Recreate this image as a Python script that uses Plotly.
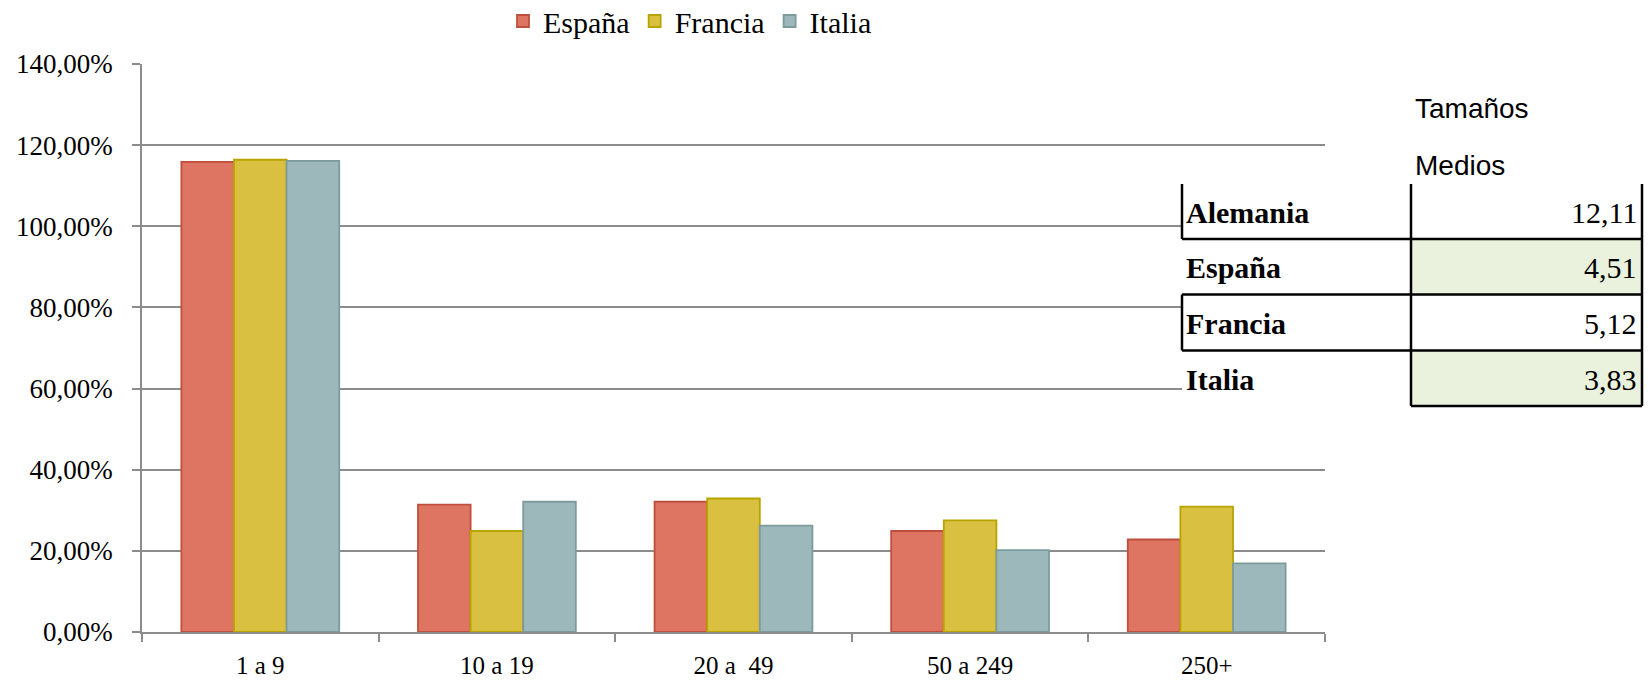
import plotly.graph_objects as go

categories = ["1 a 9", "10 a 19", "20 a\u00a0 49", "50 a 249", "250+"]
espana = [1.159, 0.314, 0.321, 0.249, 0.228]
francia = [1.164, 0.249, 0.329, 0.275, 0.309]
italia = [1.161, 0.321, 0.262, 0.202, 0.169]
series_names = ["España", "Francia", "Italia"]

table_header = ["Tamaños", "Medios"]
table_labels = ["Alemania", "España", "Francia", "Italia"]
table_values = ["12,11", "4,51", "5,12", "3,83"]

fills = ["#DE7563", "#D9C040", "#9CB8BA"]
lines = ["#BF4F3D", "#B9A300", "#7C9B9D"]

W, H = 1650, 680
L, T = 142, 64
R = W - 1325
B = H - 632
PW, PH = W - L - R, H - T - B


def px(x):
    return (x - L) / PW


def py(y):
    return (H - B - y) / PH


fig = go.Figure()
for name, vals, fc, lc in zip(series_names, [espana, francia, italia], fills, lines):
    fig.add_trace(go.Bar(
        x=categories, y=vals, name=name,
        marker=dict(color=fc, line=dict(color=lc, width=1.8)),
    ))

serif = "Liberation Serif"
fig.update_layout(
    width=W, height=H,
    margin=dict(l=L, r=R, t=T, b=B, pad=0, autoexpand=False),
    paper_bgcolor="white", plot_bgcolor="white",
    barmode="group", bargap=0.333, bargroupgap=0,
    separators=",.",
    font=dict(family=serif, size=26, color="black"),
    showlegend=True,
    legend=dict(orientation="h", xref="paper", x=px(690), xanchor="center",
                yref="container", y=1 - 21 / H, yanchor="middle",
                font=dict(family=serif, size=30), traceorder="normal",
                itemwidth=30, tracegroupgap=0, bgcolor="rgba(0,0,0,0)"),
    xaxis=dict(showline=True, linecolor="#8C8C8C", linewidth=1.5,
               ticks="outside", tickson="boundaries", ticklen=8, tickcolor="#8C8C8C", tickwidth=1.5,
               showgrid=False, ticklabelstandoff=10, tickfont=dict(family=serif, size=25)),
    yaxis=dict(range=[0, 1.4], dtick=0.2, tickformat=".2%",
               showline=True, linecolor="#8C8C8C", linewidth=1.5,
               ticks="outside", ticklen=8, tickcolor="#8C8C8C", tickwidth=1.5,
               showgrid=True, gridcolor="#8C8C8C", gridwidth=1.5,
               zeroline=False, ticklabelstandoff=14,
               tickfont=dict(family=serif, size=27)),
)

# table geometry (page pixels)
tx0, tx1, tx2 = 1182, 1411, 1642
rows = [184, 239, 294.5, 350.5, 406]

shapes = []
shapes.append(dict(type="rect", xref="paper", yref="paper",
                   x0=px(tx0), x1=px(1650), y0=py(rows[0]), y1=py(rows[4]),
                   fillcolor="white", line=dict(width=0), layer="above"))
for i in (1, 3):
    shapes.append(dict(type="rect", xref="paper", yref="paper",
                       x0=px(tx1), x1=px(tx2), y0=py(rows[i]), y1=py(rows[i + 1]),
                       fillcolor="#EAF1DD", line=dict(width=0), layer="above"))


def seg(x0, y0, x1, y1):
    shapes.append(dict(type="line", xref="paper", yref="paper",
                       x0=px(x0), y0=py(y0), x1=px(x1), y1=py(y1),
                       line=dict(color="black", width=2.5), layer="above"))


seg(tx0, rows[0], tx0, rows[1])
seg(tx1, rows[0], tx1, rows[4])
seg(tx2, rows[0], tx2, rows[4])
seg(tx0, rows[1], tx2, rows[1])
seg(tx0, rows[2], tx2, rows[2])
seg(tx0, rows[2], tx0, rows[3])
seg(tx0, rows[3], tx2, rows[3])
seg(tx1, rows[4], tx2, rows[4])
fig.update_layout(shapes=shapes)

ann = []
for txt, yc in zip(table_header, [109, 165]):
    ann.append(dict(text=txt, xref="paper", yref="paper", x=px(1413), y=py(yc),
                    xanchor="left", yanchor="middle", showarrow=False,
                    font=dict(family="Liberation Sans", size=28, color="black")))
for i, (lab, val) in enumerate(zip(table_labels, table_values)):
    yc = (rows[i] + rows[i + 1]) / 2 + 1
    ann.append(dict(text="<b>" + lab + "</b>", xref="paper", yref="paper", x=px(1184), y=py(yc),
                    xanchor="left", yanchor="middle", showarrow=False,
                    font=dict(family=serif, size=30, color="black")))
    ann.append(dict(text=val, xref="paper", yref="paper", x=px(1639), y=py(yc),
                    xanchor="right", yanchor="middle", showarrow=False,
                    font=dict(family=serif, size=30, color="black")))
fig.update_layout(annotations=ann)

fig.write_html("out.html", config={"displayModeBar": False},
               post_script="document.body.style.margin='0px';document.body.style.overflow='hidden';")
